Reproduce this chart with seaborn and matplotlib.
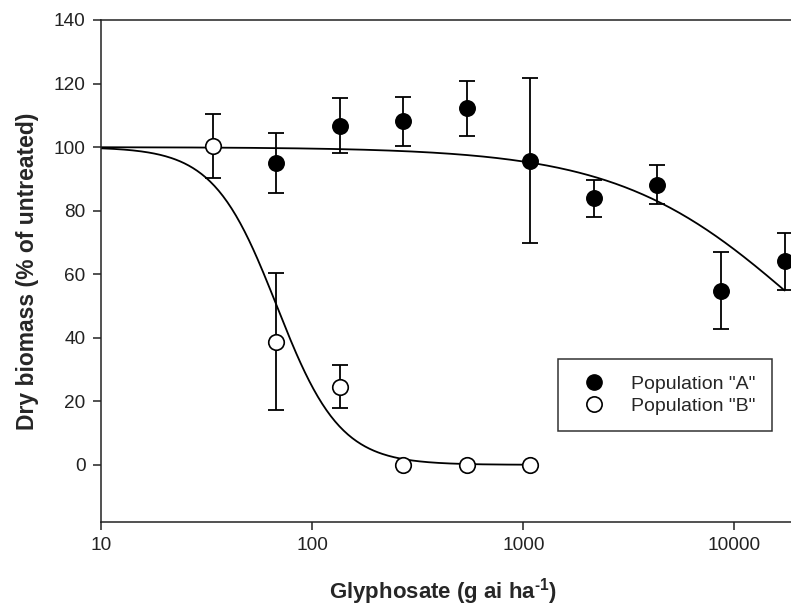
import numpy as np
import pandas as pd
import matplotlib
matplotlib.use("Agg")
import matplotlib.pyplot as plt
import seaborn as sns
from matplotlib.lines import Line2D

# ---- data ----
dose_a = [67.5, 135, 270, 540, 1080, 2160, 4320, 8640, 17280]
mean_a = [95.0, 106.7, 108.1, 112.2, 95.7, 83.9, 88.2, 54.8, 64.1]
err_a = [9.3, 8.6, 7.8, 8.7, 26.0, 5.8, 6.2, 12.2, 9.0]

dose_b = [33.75, 67.5, 135, 270, 540, 1080]
mean_b = [100.4, 38.8, 24.6, 0.0, 0.0, 0.0]
err_b = [10.0, 21.7, 6.8, 0.0, 0.0, 0.0]

# fitted log-logistic model parameters (upper limit, ED50, slope) and fit range
fit_a = dict(top=100.0, ed50=21000.0, slope=1.0, xmin=10, xmax=17280)
fit_b = dict(top=100.0, ed50=68.0, slope=2.9, xmin=10, xmax=1080)

labels = ['Population "A"', 'Population "B"']
xticks = [10, 100, 1000, 10000]
yticks = [0, 20, 40, 60, 80, 100, 120, 140]


def fitted_curve(p, n=300):
    x = np.logspace(np.log10(p["xmin"]), np.log10(p["xmax"]), n)
    y = p["top"] / (1.0 + (x / p["ed50"]) ** p["slope"])
    return pd.DataFrame({"dose": x, "resp": y})


sns.set_theme(style="ticks")
plt.rcParams["font.family"] = ["Liberation Sans", "DejaVu Sans"]
plt.rcParams["mathtext.fontset"] = "custom"
plt.rcParams["mathtext.rm"] = "Liberation Sans:bold"
plt.rcParams["mathtext.bf"] = "Liberation Sans:bold"

fig = plt.figure(figsize=(7.91, 6.09), dpi=100)
ax = fig.add_axes([101 / 791, 87 / 609, 697 / 791, 502 / 609])

lw = 1.3
# curves
sns.lineplot(data=fitted_curve(fit_a), x="dose", y="resp", ax=ax, color="black",
             lw=lw, zorder=2, estimator=None, sort=False)
sns.lineplot(data=fitted_curve(fit_b), x="dose", y="resp", ax=ax, color="black",
             lw=lw, zorder=2, estimator=None, sort=False)

# error bars
for d, m, e in [(dose_a, mean_a, err_a), (dose_b, mean_b, err_b)]:
    d = np.array(d); m = np.array(m); e = np.array(e)
    k = e > 0
    ax.errorbar(d[k], m[k], yerr=e[k], fmt="none", ecolor="black",
                elinewidth=lw, capsize=5.5, capthick=lw, zorder=3)

dfa = pd.DataFrame({"dose": dose_a, "resp": mean_a})
dfb = pd.DataFrame({"dose": dose_b, "resp": mean_b})
sns.scatterplot(data=dfa, x="dose", y="resp", ax=ax, s=125, color="black",
                edgecolor="black", linewidth=1.0, zorder=4)
sns.scatterplot(data=dfb, x="dose", y="resp", ax=ax, s=125, color="white",
                edgecolor="black", linewidth=1.2, zorder=4)

ax.set_xscale("log")
ax.set_xlim(10, 20000)
ax.set_ylim(-18, 140)
ax.set_xticks(xticks)
ax.set_xticklabels([str(t) for t in xticks])
ax.xaxis.set_minor_locator(matplotlib.ticker.NullLocator())
ax.set_yticks(yticks)

for s in ax.spines.values():
    s.set_linewidth(1.1)
    s.set_color("#222222")
ax.tick_params(axis="both", direction="out", length=6, width=1.1,
               labelsize=13.7, colors="#222222", labelcolor="#222222", pad=5)

ax.set_xlabel(r"Glyphosate (g ai ha$^{\text{-1}}$)", fontsize=16,
              fontweight="bold", labelpad=16)
ax.xaxis.label.set_x((443 - 101) / 697)
ax.set_ylabel("Dry biomass (% of untreated)", fontsize=16.5, fontweight="bold",
              labelpad=11)

handles = [
    Line2D([], [], ls="none", marker="o", ms=11, mfc="black", mec="black"),
    Line2D([], [], ls="none", marker="o", ms=11, mfc="white", mec="black", mew=1.2),
]
leg = ax.legend(handles, labels, loc="upper left",
                bbox_to_anchor=((558 - 101) / 697, (522 - 359) / 502),
                fontsize=14, frameon=True, fancybox=False, edgecolor="black",
                handletextpad=0.9, borderpad=0.85, labelspacing=0.2,
                borderaxespad=0)
leg.get_frame().set_linewidth(1.1)

fig.savefig("out.png", dpi=100)
